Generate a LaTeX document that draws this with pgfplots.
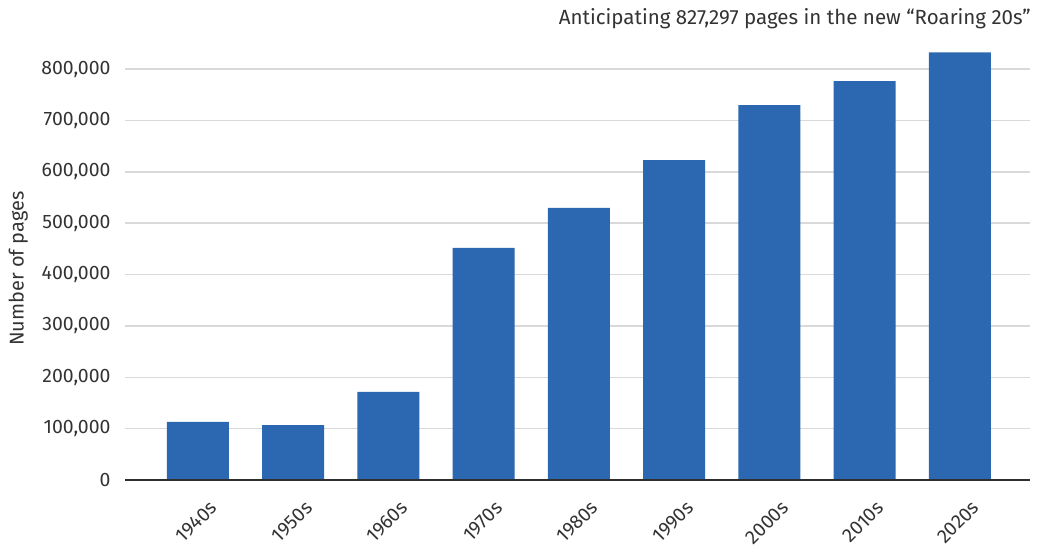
\documentclass[border=0pt]{standalone}
\usepackage{fontspec}
\setmainfont{Fira Sans}
\usepackage{pgfplots}
\pgfplotsset{compat=1.18}
\definecolor{barblue}{HTML}{2C67B1}
\definecolor{txt}{HTML}{333333}
\definecolor{gridc}{HTML}{D9D9D9}
\begin{document}
\begin{tikzpicture}[x=1bp,y=1bp]
\useasboundingbox (0,0) rectangle (1044,546);
\begin{axis}[
  at={(125bp,66bp)}, anchor=south west,
  scale only axis, width=905bp, height=431.3bp,
  xmin=-0.765, xmax=8.735,
  ymin=0, ymax=840000,
  axis line style={draw=none},
  scaled y ticks=false,
  ytick={0,100000,200000,300000,400000,500000,600000,700000,800000},
  yticklabels={0,{100,000},{200,000},{300,000},{400,000},{500,000},{600,000},{700,000},{800,000}},
  ymajorgrids=true, xmajorgrids=false,
  y grid style={draw=gridc, line width=1.6bp},
  major tick length=0pt,
  yticklabel style={font=\fontsize{19.5}{22}\selectfont, text=txt, xshift=-11bp},
  xtick=data,
  xticklabels={1940s,1950s,1960s,1970s,1980s,1990s,2000s,2010s,2020s},
  xticklabel style={font=\fontsize{19.5}{22}\selectfont, text=txt, anchor=north east, inner sep=0pt, xshift=11bp, yshift=-19.5bp, rotate=45},
  ylabel={Number of pages},
  ylabel style={at={(axis description cs:-0.118,0.49)}, anchor=center, rotate=0, font=\fontsize{20}{22}\selectfont, text=txt},
  clip=false,
]
\addplot[ybar, bar width=62bp, fill=barblue, draw=none, bar shift=0pt] coordinates {
 (0,113000) (1,107000) (2,171500) (3,452000) (4,530000) (5,623000) (6,730000) (7,777000) (8,833000)
};
\draw[color=txt!90!black, line width=2bp] (axis cs:-0.765,0) -- (axis cs:8.735,0);
\end{axis}
\node[anchor=east, font=\fontsize{20.6}{22}\selectfont, text=txt, inner sep=0pt] at (1031,527) {Anticipating 827,297 pages in the new “Roaring 20s”};
\end{tikzpicture}
\end{document}
